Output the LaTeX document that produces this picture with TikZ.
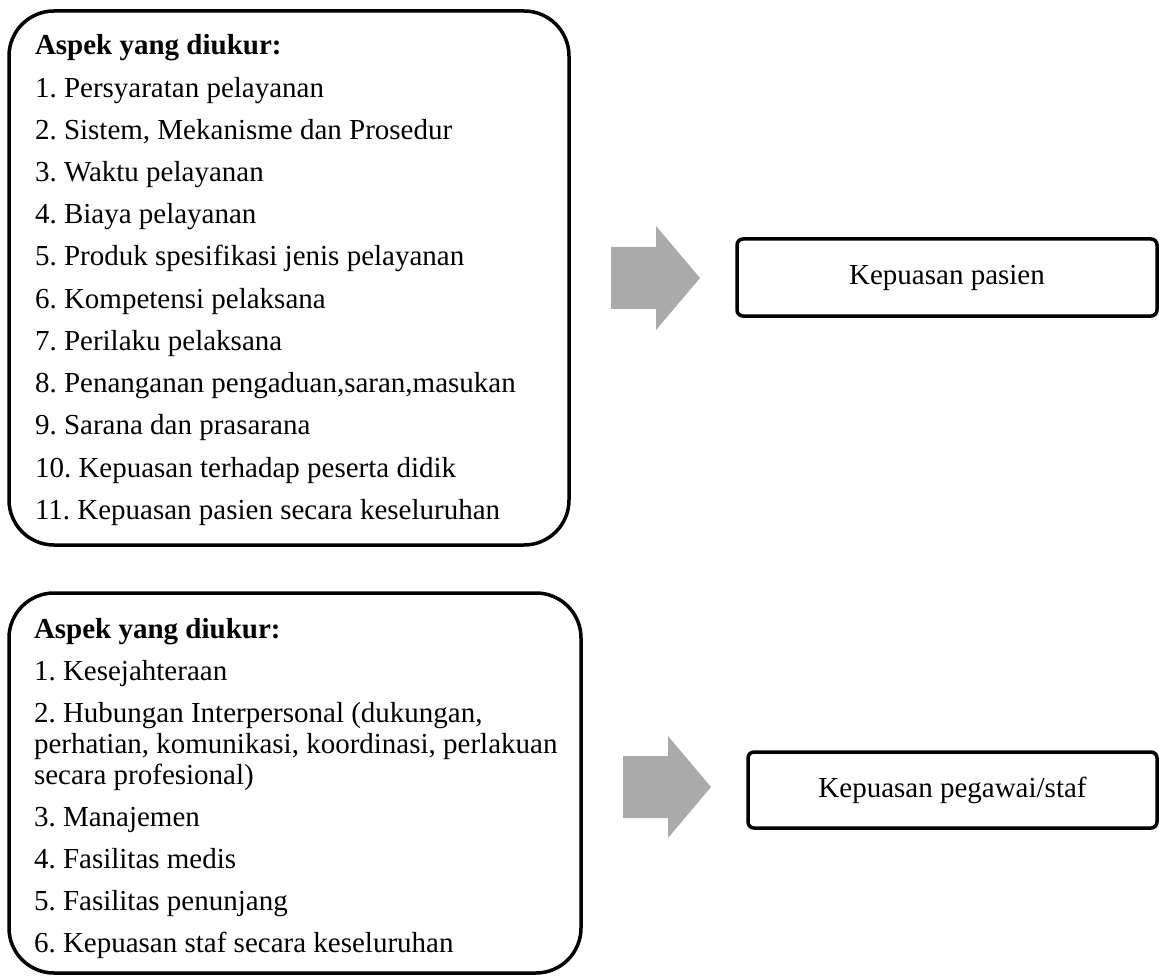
\documentclass[tikz,border=0pt]{standalone}
\usepackage{fontspec}
\setmainfont{Liberation Serif}
\frenchspacing
\newcommand\txtsize{\fontsize{29}{31}\selectfont}
\definecolor{arrowgray}{RGB}{170,170,170}
\begin{document}
\begin{tikzpicture}[x=1pt,y=-1pt,
  bigbox/.style={draw, line width=3.5pt, rounded corners=45pt, inner sep=0pt, outer sep=0pt, anchor=north west},
  smallbox/.style={draw, line width=3.5pt, rounded corners=6pt, inner sep=0pt, outer sep=0pt, anchor=north west, font=\txtsize},
  txt/.style={anchor=base west, inner sep=0pt, outer sep=0pt, font=\txtsize},
  blockarrow/.style={fill=arrowgray, draw=none}]
\useasboundingbox (0,0) rectangle (1159,976);

% top group
\node[bigbox, minimum width=560pt, minimum height=534pt] (boxA) at (9,11) {};
\node[txt] (hA) at (35,55) {\textbf{Aspek yang diukur:}};
\node[txt] (a1) at (35,97.2) {1. Persyaratan pelayanan};
\node[txt] (a2) at (35,139.4) {2. Sistem, Mekanisme dan Prosedur};
\node[txt] (a3) at (35,181.6) {3. Waktu pelayanan};
\node[txt] (a4) at (35,223.8) {4. Biaya pelayanan};
\node[txt] (a5) at (35,266) {5. Produk spesifikasi jenis pelayanan};
\node[txt] (a6) at (35,308.2) {6. Kompetensi pelaksana};
\node[txt] (a7) at (35,350.4) {7. Perilaku pelaksana};
\node[txt] (a8) at (35,392.6) {8. Penanganan pengaduan,saran,masukan};
\node[txt] (a9) at (35,434.8) {9. Sarana dan prasarana};
\node[txt] (a10) at (35,477) {10. Kepuasan terhadap peserta didik};
\node[txt] (a11) at (35,519.2) {11. Kepuasan pasien secara keseluruhan};

\fill[blockarrow] (611,247) -- (656,247) -- (656,226) -- (700,278) -- (656,330) -- (656,309) -- (611,309) -- cycle;

\node[smallbox, minimum width=420pt, minimum height=77pt] (outA) at (737,239) {};
\node[font=\txtsize, inner sep=0pt] (outAt) at (outA.center) {Kepuasan pasien};

% bottom group
\node[bigbox, minimum width=572pt, minimum height=380pt] (boxB) at (9,593) {};
\node[txt] (hB) at (34,638) {\textbf{Aspek yang diukur:}};
\node[txt] (b1) at (34,680) {1. Kesejahteraan};
\node[txt] (b2) at (34,722) {2. Hubungan Interpersonal (dukungan,};
\node[txt] (b2b) at (34,753) {perhatian, komunikasi, koordinasi, perlakuan};
\node[txt] (b2c) at (34,784) {secara profesional)};
\node[txt] (b3) at (34,826) {3. Manajemen};
\node[txt] (b4) at (34,868) {4. Fasilitas medis};
\node[txt] (b5) at (34,910) {5. Fasilitas penunjang};
\node[txt] (b6) at (34,952) {6. Kepuasan staf secara keseluruhan};

\fill[blockarrow] (623,756) -- (668,756) -- (668,736) -- (711,787) -- (668,838) -- (668,818) -- (623,818) -- cycle;

\node[smallbox, minimum width=409pt, minimum height=76pt] (outB) at (748,752) {};
\node[font=\txtsize, inner sep=0pt] (outBt) at (outB.center) {Kepuasan pegawai/staf};
\end{tikzpicture}
\end{document}
